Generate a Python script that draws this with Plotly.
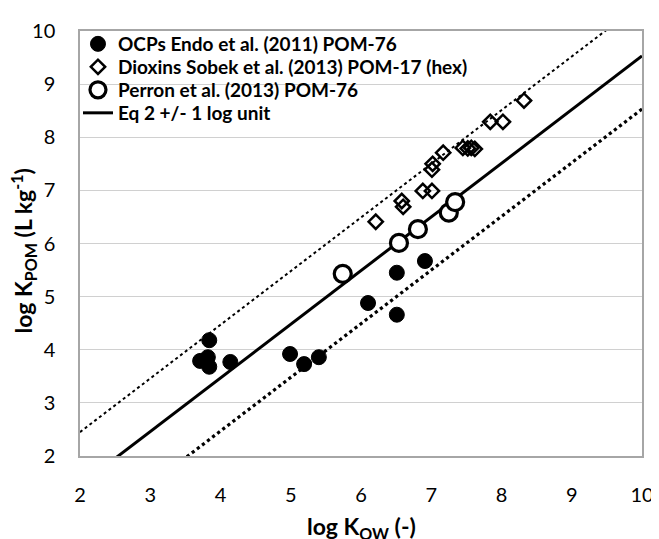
import plotly.graph_objects as go

# OCPs Endo et al. (2011) POM-76  (filled circles)
ocp_x = [3.84, 3.71, 3.82, 3.84, 4.14, 4.99, 5.19, 5.40, 6.10, 6.51, 6.51, 6.91]
ocp_y = [4.18, 3.79, 3.86, 3.68, 3.77, 3.92, 3.73, 3.86, 4.88, 5.45, 4.66, 5.67]

# Dioxins Sobek et al. (2013) POM-17 (hex)  (open diamonds)
diox_x = [6.21, 6.58, 6.60, 6.88, 7.01, 7.01, 7.02, 7.17, 7.45, 7.52, 7.57, 7.62, 7.84, 8.02, 8.32]
diox_y = [6.41, 6.80, 6.69, 6.99, 6.99, 7.39, 7.50, 7.71, 7.80, 7.79, 7.80, 7.78, 8.29, 8.29, 8.69]

# Perron et al. (2013) POM-76  (open circles)
perron_x = [5.74, 6.54, 6.81, 7.25, 7.34]
perron_y = [5.43, 6.01, 6.27, 6.58, 6.78]

# Eq 2 +/- 1 log unit
eq_slope = 1.01
eq_intercept = -0.57
band = 1.0
line_x = [2, 10]

x_ticks = [2, 3, 4, 5, 6, 7, 8, 9, 10]
y_ticks = [2, 3, 4, 5, 6, 7, 8, 9, 10]

FONT = "Lato"

eq_y = [eq_slope * v + eq_intercept for v in line_x]
up_y = [eq_slope * v + eq_intercept + band for v in line_x]
lo_y = [eq_slope * v + eq_intercept - band for v in line_x]

fig = go.Figure()

fig.add_trace(go.Scatter(x=line_x, y=up_y, mode="lines", showlegend=False,
                         line=dict(color="black", width=2, dash="dot")))
fig.add_trace(go.Scatter(x=line_x, y=lo_y, mode="lines", showlegend=False,
                         line=dict(color="black", width=3.2, dash="dot")))
fig.add_trace(go.Scatter(x=line_x, y=eq_y, mode="lines", name="Eq 2 +/- 1 log unit",
                         legend="legend4", line=dict(color="black", width=3)))

fig.add_trace(go.Scatter(x=ocp_x, y=ocp_y, mode="markers", name="OCPs Endo et al. (2011) POM-76",
                         legend="legend",
                         marker=dict(symbol="circle", size=15, color="black",
                                     line=dict(color="black", width=1))))
fig.add_trace(go.Scatter(x=diox_x, y=diox_y, mode="markers",
                         name="Dioxins Sobek et al. (2013) POM-17 (hex)", legend="legend2",
                         marker=dict(symbol="diamond-open", size=11, color="black",
                                     line=dict(color="black", width=2.5))))
fig.add_trace(go.Scatter(x=perron_x, y=perron_y, mode="markers", name="Perron et al. (2013) POM-76",
                         legend="legend3",
                         marker=dict(symbol="circle", size=17, color="white",
                                     line=dict(color="black", width=3.2))))

axis_common = dict(
    range=[2, 10], tickmode="array", showline=True, mirror=True,
    linecolor="#a6a6a6", linewidth=1.5, ticks="", zeroline=False, automargin=False,
    tickfont=dict(family=FONT, size=20, color="black"),
)

fig.update_xaxes(**axis_common, tickvals=x_ticks, showgrid=False, ticklabelstandoff=20)
fig.update_yaxes(**axis_common, tickvals=y_ticks, showgrid=True, gridcolor="#d0d0d0", gridwidth=1,
                 ticklabelstandoff=19)

title_font = dict(family=FONT, size=23, color="black", weight="bold")
fig.add_annotation(text="log K<sub>OW</sub> (-)", xref="paper", yref="paper", x=0.5, y=0,
                   xanchor="center", yanchor="middle", yshift=-71, showarrow=False,
                   font=title_font)
fig.add_annotation(text="log K<sub>POM</sub> (L kg<sup>-1</sup>)", xref="paper", yref="paper",
                   x=0, y=0.5, xanchor="center", yanchor="middle", xshift=-57, yshift=-8,
                   textangle=-90, showarrow=False, font=title_font)

leg_common = dict(x=-0.0036, xanchor="left", yanchor="middle", bgcolor="rgba(0,0,0,0)",
                  font=dict(family=FONT, size=19, color="black", weight="bold"),
                  itemwidth=30, borderwidth=0)

# the page body adds an 8 px margin, so the figure is sized to fit the window
fig.update_layout(
    width=651, height=531,
    margin=dict(l=72, r=17, t=23, b=83),
    plot_bgcolor="white", paper_bgcolor="white",
    font=dict(family=FONT, color="black"),
    legend=dict(**leg_common, y=0.9694),
    legend2=dict(**leg_common, y=0.9153),
    legend3=dict(**leg_common, y=0.8612),
    legend4=dict(**leg_common, y=0.8071),
)

fig.write_html("out.html")
